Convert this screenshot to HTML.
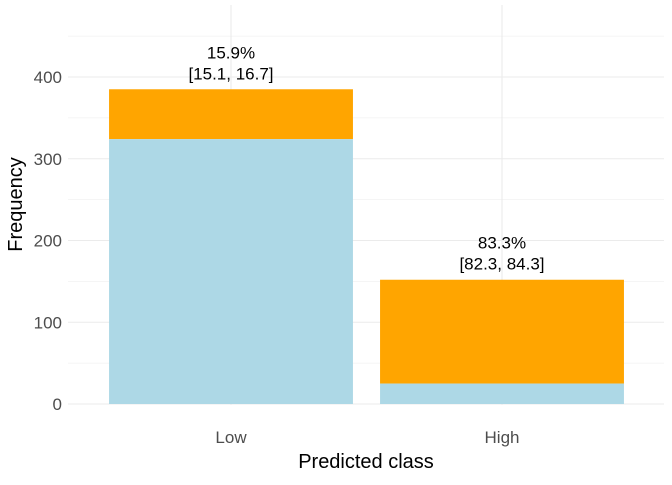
<!DOCTYPE html>
<html><head><meta charset="utf-8"><style>
body{margin:0;background:#fff;font-family:"Liberation Sans",sans-serif}
</style></head><body>
<svg id="c" width="672" height="480" xmlns="http://www.w3.org/2000/svg"></svg>
<script>
const categories=["Low","High"];
const totals=[385,152];
const negatives=[324,25];
const pctLabels=["15.9%","83.3%"];
const ciLabels=["[15.1, 16.7]","[82.3, 84.3]"];
const yTicks=[0,100,200,300,400];
const yMinor=[50,150,250,350,450];
const NS="http://www.w3.org/2000/svg";
const svg=document.getElementById('c');
const px0=68,px1=664,yBase=404,yScale=327/400;
const bx0=95.5,bx1=637.5;
const y=v=>yBase-v*yScale;
const band=(bx1-bx0)/categories.length;
const xc=i=>bx0+band*(i+0.5);
const bw=band*0.9;
function mk(t,a,txt){const e=document.createElementNS(NS,t);for(const k in a)e.setAttribute(k,a[k]);if(txt!=null)e.textContent=txt;svg.appendChild(e);return e;}
yMinor.forEach(v=>{const e=mk('line',{x1:px0,x2:px1,y1:y(v),y2:y(v),stroke:'#ebebeb','stroke-width':0.6});

});
yTicks.forEach(v=>{const e=mk('line',{x1:px0,x2:px1,y1:y(v),y2:y(v),stroke:'#ebebeb','stroke-width':1.1});


const t=mk('text',{x:62,y:y(v)+6,'text-anchor':'end','font-size':17,fill:'#4d4d4d'},String(v));

});
categories.forEach((c,i)=>{const e=mk('line',{x1:xc(i),x2:xc(i),y1:5,y2:yBase+1,stroke:'#ebebeb','stroke-width':1.1});

});
categories.forEach((c,i)=>{
const o=mk('rect',{x:xc(i)-bw/2,y:y(totals[i]),width:bw,height:(totals[i]-negatives[i])*yScale,fill:'#ffa500'});


const b=mk('rect',{x:xc(i)-bw/2,y:y(negatives[i]),width:bw,height:negatives[i]*yScale,fill:'#add8e6'});


const t1=mk('text',{x:xc(i),y:y(totals[i])-31,'text-anchor':'middle','font-size':17,fill:'#000'},pctLabels[i]);


const t2=mk('text',{x:xc(i),y:y(totals[i])-10,'text-anchor':'middle','font-size':17,fill:'#000'},ciLabels[i]);


const xl=mk('text',{x:xc(i),y:443,'text-anchor':'middle','font-size':17,fill:'#4d4d4d'},c);


});
const xt=mk('text',{x:(px0+px1)/2,y:468,'text-anchor':'middle','font-size':20,fill:'#000'},'Predicted class');


const yt=mk('text',{x:22,y:(5+yBase)/2,'text-anchor':'middle','font-size':20,fill:'#000',transform:`rotate(-90 22 ${(5+yBase)/2})`},'Frequency');


</script>
</body></html>
